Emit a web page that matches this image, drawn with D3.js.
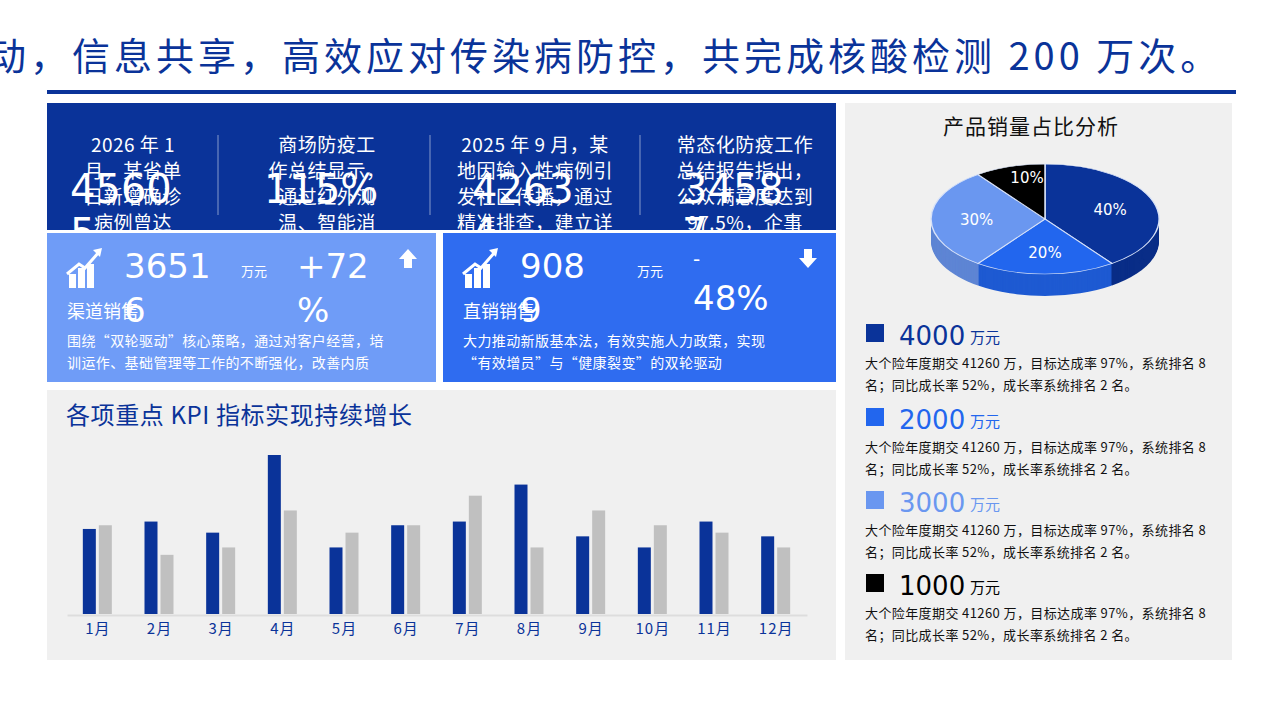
<!DOCTYPE html>
<html><head><meta charset="utf-8">
<script src="https://cdn.jsdelivr.net/npm/d3@7"></script>
<style>body{margin:0;background:#fff;overflow:hidden}svg{font-family:"Noto Sans CJK SC","Noto Sans",sans-serif}</style>
</head><body><svg id="c" width="1280" height="719"></svg>
<script>
// data
const months = ['1月','2月','3月','4月','5月','6月','7月','8月','9月','10月','11月','12月'];
const seriesA = [2.3,2.5,2.2,4.3,1.8,2.4,2.5,3.5,2.1,1.8,2.5,2.1];
const seriesB = [2.4,1.6,1.8,2.8,2.2,2.4,3.2,1.8,2.8,2.4,2.2,1.8];
const pieLabels = ['40%','20%','30%','10%'];
const pieValues = [40,20,30,10];
const pieColors = ['#0a3399','#2266ee','#6a97f0','#000000'];
const legendValues = ['4000','2000','3000','1000'];
const topTexts = [
  ['2026 年 1','月，某省单','日新增确诊','病例曾达'],
  ['商场防疫工','作总结显示，','通过红外测','温、智能消'],
  ['2025 年 9 月，某','地因输入性病例引','发社区传播，通过','精准排查，建立详'],
  ['常态化防疫工作','总结报告指出，','公众满意度达到','97.5%，企事']
];
const topNumbers = [['4560','5'],['115%',''],['4263','4'],['3458','7']];

const svg = d3.select('#c');
const defs = svg.append('defs');

svg.append('text').attr('x',-12).attr('y',70).attr('fill','#0a3399').attr('font-size',38).attr('letter-spacing',4)
  .text('动，信息共享，高效应对传染病防控，共完成核酸检测 200 万次。');
svg.append('rect').attr('x',47).attr('y',90).attr('width',1189).attr('height',4).attr('fill','#0a3399');

// top dark panel
defs.append('clipPath').attr('id','topclip').append('rect').attr('x',47).attr('y',103).attr('width',789).attr('height',127);
svg.append('rect').attr('x',47).attr('y',103).attr('width',789).attr('height',127).attr('fill','#0a3399');
const tp = svg.append('g').attr('clip-path','url(#topclip)');
const colX = [133, 327, 535, 745];
[218,430,640].forEach(x => tp.append('line').attr('x1',x).attr('x2',x).attr('y1',135).attr('y2',215).attr('stroke','#ffffff').attr('stroke-opacity',0.5));
topTexts.forEach((lines,i) => {
  lines.forEach((l,j) => tp.append('text').attr('x',colX[i]).attr('y',152+j*26).attr('text-anchor','middle')
    .attr('fill','#fff').attr('font-size',19).attr('letter-spacing',0.5).text(l));
  topNumbers[i].forEach((n,j) => tp.append('text').attr('x',colX[i]-63).attr('y',203+j*44)
    .attr('fill','#fff').attr('font-size',40).attr('font-family','DejaVu Sans').text(n));
});

// KPI cards
function icon(g,x,y){
  [[0,14,7,14],[9,8,7,20],[18,4,7,24]].forEach(d=>g.append('rect').attr('x',x+d[0]).attr('y',y+d[1]+4).attr('width',d[2]).attr('height',d[3]).attr('fill','#fff'));
  g.append('path').attr('d',`M${x-2},${y+18} L${x+10},${y+8} L${x+16},${y+12} L${x+30},${y-4}`).attr('stroke','#fff').attr('stroke-width',3).attr('fill','none');
  g.append('path').attr('d',`M${x+24},${y-6} L${x+33},${y-8} L${x+31},${y+1}Z`).attr('fill','#fff');
}
function card(x,w,color,num,num2,pct,pct2,name,desc,up,pctBig){
  const g = svg.append('g');
  g.append('rect').attr('x',x).attr('y',233).attr('width',w).attr('height',149).attr('fill',color);
  icon(g,x+22,256);
  g.append('text').attr('x',x+77).attr('y',278).attr('fill','#fff').attr('font-size',34).attr('font-family','DejaVu Sans').text(num);
  g.append('text').attr('x',x+77).attr('y',322).attr('fill','#fff').attr('font-size',34).attr('font-family','DejaVu Sans').text(num2);
  g.append('text').attr('x',x+194).attr('y',276).attr('fill','#fff').attr('font-size',13).text('万元');
  g.append('text').attr('x',x+20).attr('y',318).attr('fill','#fff').attr('font-size',18).text(name);
  g.append('text').attr('x',x+250).attr('y',pctBig?278:266).attr('fill','#fff').attr('font-size',pctBig?34:20).attr('font-family','DejaVu Sans').text(pct);
  g.append('text').attr('x',x+250).attr('y',pctBig?322:310).attr('fill','#fff').attr('font-size',34).attr('font-family','DejaVu Sans').text(pct2);
  const ax = x+w-28;
  g.append('path').attr('d', up ? `M${ax},249 l-9,10 h5 v9 h8 v-9 h5z` : `M${ax},268 l-9,-10 h5 v-9 h8 v9 h5z`).attr('fill','#fff');
  desc.forEach((d,j)=>g.append('text').attr('x',x+20).attr('y',346+j*22).attr('fill','#fff').attr('font-size',14).attr('letter-spacing',0.4).text(d));
}
card(47,389,'#6f9cf7','3651','6','+72','%','渠道销售',['围绕“双轮驱动”核心策略，通过对客户经营，培','训运作、基础管理等工作的不断强化，改善内质'],true,true);
card(443,393,'#2f6cf0','908','9','-','48%','直销销售',['大力推动新版基本法，有效实施人力政策，实现','“有效增员”与“健康裂变”的双轮驱动'],false,false);

// bar chart panel
svg.append('rect').attr('x',47).attr('y',390).attr('width',789).attr('height',270).attr('fill','#f0f0f0');
svg.append('text').attr('x',66).attr('y',424).attr('fill','#0a3399').attr('font-size',24).attr('letter-spacing',0.6).text('各项重点 KPI 指标实现持续增长');
const x = d3.scaleBand().domain(months).range([67,807]).paddingInner(0);
const y = d3.scaleLinear().domain([0,4.3]).range([614,455]);
const bw = 13;
const bars = svg.append('g');
months.forEach((m,i)=>{
  const cx = x(m)+x.bandwidth()/2;
  bars.append('rect').attr('x',cx-bw-2).attr('y',y(seriesA[i])).attr('width',bw).attr('height',y(0)-y(seriesA[i])).attr('fill','#0a3399');
  bars.append('rect').attr('x',cx+1).attr('y',y(seriesB[i])).attr('width',bw).attr('height',y(0)-y(seriesB[i])).attr('fill','#c0c0c0');
});
const xAxis = svg.append('g').attr('transform','translate(0,615)').call(d3.axisBottom(x).tickSize(0).tickPadding(8));
xAxis.select('.domain').attr('stroke','#dddddd').attr('stroke-width',2);
xAxis.selectAll('text').attr('fill','#0a3399').attr('font-size',15).attr('letter-spacing',1).attr('font-family','"Noto Sans CJK SC",sans-serif');

// right panel
svg.append('rect').attr('x',845).attr('y',103).attr('width',387).attr('height',557).attr('fill','#f0f0f0');
svg.append('text').attr('x',1031).attr('y',134).attr('text-anchor','middle').attr('fill','#111').attr('font-size',21).attr('letter-spacing',1).text('产品销量占比分析');
const pie = d3.pie().sort(null).value(d=>d)(pieValues);
const rx = 114, ry = 55, cx0 = 1045, cy0 = 219, depth = 22;
const arc = d3.arc().innerRadius(0).outerRadius(rx);
const pg = svg.append('g');
for(let dz=depth; dz>0; dz--){
  const l = pg.append('g').attr('transform',`translate(${cx0},${cy0+dz}) scale(1,${ry/rx})`);
  l.selectAll('path').data(pie).join('path').attr('d',arc)
    .attr('fill',(d,i)=>d3.color(pieColors[i]).darker(0.35));
}
const topFace = pg.append('g').attr('transform',`translate(${cx0},${cy0}) scale(1,${ry/rx})`);
topFace.selectAll('path').data(pie).join('path').attr('d',arc).attr('fill',(d,i)=>pieColors[i])
  .attr('stroke','#d8e2f8').attr('stroke-width',1.5);
const lab = d3.arc().innerRadius(rx*0.6).outerRadius(rx*0.6);
pie.forEach((d,i)=>{
  const c = lab.centroid(d);
  pg.append('text').attr('x',cx0+c[0]*(i===3?0.85:1.0)).attr('y',cy0+c[1]*ry/rx*(i===3?1.35:1)+6).attr('text-anchor','middle')
    .attr('fill','#fff').attr('font-size',15).attr('font-family','DejaVu Sans').text(pieLabels[i]);
});

// legend
const legY = [324,408,491,574];
legendValues.forEach((v,i)=>{
  const g = svg.append('g');
  const col = pieColors[i];
  g.append('rect').attr('x',866).attr('y',legY[i]).attr('width',18).attr('height',18).attr('fill',col);
  g.append('text').attr('x',899).attr('y',legY[i]+21).attr('fill',col).attr('font-size',26).attr('font-family','DejaVu Sans').text(v);
  g.append('text').attr('x',970).attr('y',legY[i]+19).attr('fill',col).attr('font-size',15).text('万元');
  g.append('text').attr('x',865).attr('y',legY[i]+44).attr('fill','#111').attr('font-size',13).attr('letter-spacing',0.4).text('大个险年度期交 41260 万，目标达成率 97%，系统排名 8');
  g.append('text').attr('x',865).attr('y',legY[i]+66).attr('fill','#111').attr('font-size',13).attr('letter-spacing',0.4).text('名；同比成长率 52%，成长率系统排名 2 名。');
});
</script></body></html>
